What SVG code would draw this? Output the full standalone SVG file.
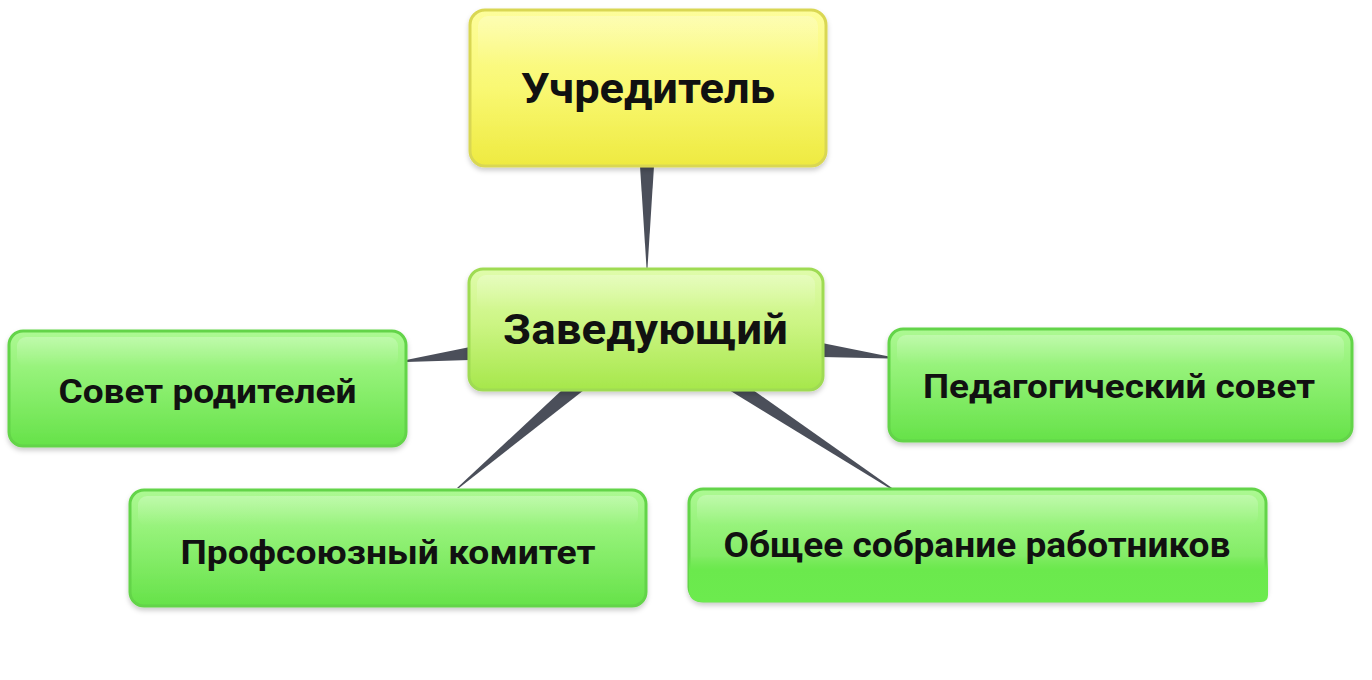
<svg xmlns="http://www.w3.org/2000/svg" width="1372" height="680" viewBox="0 0 1372 680">
<defs>
<linearGradient id="gGreen" x1="0" y1="0" x2="0" y2="1">
<stop offset="0" stop-color="#adf993"/>
<stop offset="0.35" stop-color="#95f279"/>
<stop offset="1" stop-color="#66e249"/>
</linearGradient>
<linearGradient id="gYellow" x1="0" y1="0" x2="0" y2="1">
<stop offset="0" stop-color="#fdfd9c"/>
<stop offset="0.5" stop-color="#f9f873"/>
<stop offset="1" stop-color="#eeea40"/>
</linearGradient>
<linearGradient id="gLime" x1="0" y1="0" x2="0" y2="1">
<stop offset="0" stop-color="#e0fcac"/>
<stop offset="0.45" stop-color="#ccf584"/>
<stop offset="1" stop-color="#a6e74b"/>
</linearGradient>
<linearGradient id="gShine" x1="0" y1="0" x2="0" y2="1">
<stop offset="0" stop-color="#ffffff" stop-opacity="0.25"/>
<stop offset="1" stop-color="#ffffff" stop-opacity="0"/>
</linearGradient>
<linearGradient id="gBand" x1="0" y1="0" x2="0" y2="1">
<stop offset="0" stop-color="#6be94d" stop-opacity="0"/>
<stop offset="0.3" stop-color="#6be94d" stop-opacity="1"/>
<stop offset="1" stop-color="#6ceb4e" stop-opacity="1"/>
</linearGradient>
<filter id="sh" x="-5%" y="-10%" width="110%" height="125%">
<feDropShadow dx="0" dy="3" stdDeviation="2.5" flood-color="#000" flood-opacity="0.2"/>
</filter>
</defs>
<style>
.g{fill:url(#gGreen);stroke:#63d448;stroke-width:3;filter:url(#sh)}
.y{fill:url(#gYellow);stroke:#d9d752;stroke-width:3;filter:url(#sh)}
.l{fill:url(#gLime);stroke:#9fdb52;stroke-width:3;filter:url(#sh)}
.shine{fill:url(#gShine);stroke:none}
.t{font-family:Roboto,"Liberation Sans","Noto Sans",sans-serif;font-weight:bold;fill:#111;text-anchor:middle}
.big{font-size:43px}
.sm{font-size:33px}
.c{fill:#4b4f5a;stroke:none}
</style>
<rect width="1372" height="680" fill="#ffffff"/>
<g id="connectors">
<polygon class="c" points="640,166 654,166 647.5,268 646.5,268"/>
<polygon class="c" points="470,347 470,360 406,362 406,360"/>
<polygon class="c" points="822,343 822,357 889,358.5 889,356.5"/>
<polygon class="c" points="562,390 584,390 459,488 457,488"/>
<polygon class="c" points="729,390 753,390 892,488 889,488"/>
</g>
<g id="node-uchreditel">
<rect class="y" x="470" y="10" width="356" height="156" rx="15"/>
<rect class="shine" x="478" y="16" width="340" height="50" rx="10"/>
<text class="t big" x="648" y="103" textLength="254" lengthAdjust="spacingAndGlyphs">Учредитель</text>
</g>
<g id="node-zaveduyushchiy">
<rect class="l" x="469" y="269" width="354" height="121" rx="14"/>
<rect class="shine" x="477" y="275" width="338" height="36" rx="9"/>
<text class="t big" x="645.5" y="344" textLength="285" lengthAdjust="spacingAndGlyphs">Заведующий</text>
</g>
<g id="node-sovet-roditeley">
<rect class="g" x="9" y="331" width="397" height="115" rx="14"/>
<rect class="shine" x="17" y="337" width="381" height="30" rx="9"/>
<text class="t sm" x="207.5" y="403" textLength="298" lengthAdjust="spacingAndGlyphs">Совет родителей</text>
</g>
<g id="node-pedsovet">
<rect class="g" x="889" y="329" width="463" height="112" rx="14"/>
<rect class="shine" x="897" y="335" width="447" height="30" rx="9"/>
<text class="t sm" x="1119" y="398" textLength="392" lengthAdjust="spacingAndGlyphs">Педагогический совет</text>
</g>
<g id="node-profkom">
<rect class="g" x="130" y="490" width="516" height="116" rx="14"/>
<rect class="shine" x="138" y="496" width="500" height="30" rx="9"/>
<text class="t sm" x="388" y="564" textLength="415" lengthAdjust="spacingAndGlyphs">Профсоюзный комитет</text>
</g>
<g id="node-obshchee-sobranie">
<rect class="g" x="689" y="489" width="577" height="112" rx="14"/>
<rect class="shine" x="697" y="495" width="561" height="30" rx="9"/>
<path d="M689,556 H1268 V595 Q1268,602 1261,602 H702 Q689,602 689,590 Z" fill="url(#gBand)"/>
<text class="t" font-size="35" x="977" y="557" textLength="507" lengthAdjust="spacingAndGlyphs">Общее собрание работников</text>
</g>
</svg>
